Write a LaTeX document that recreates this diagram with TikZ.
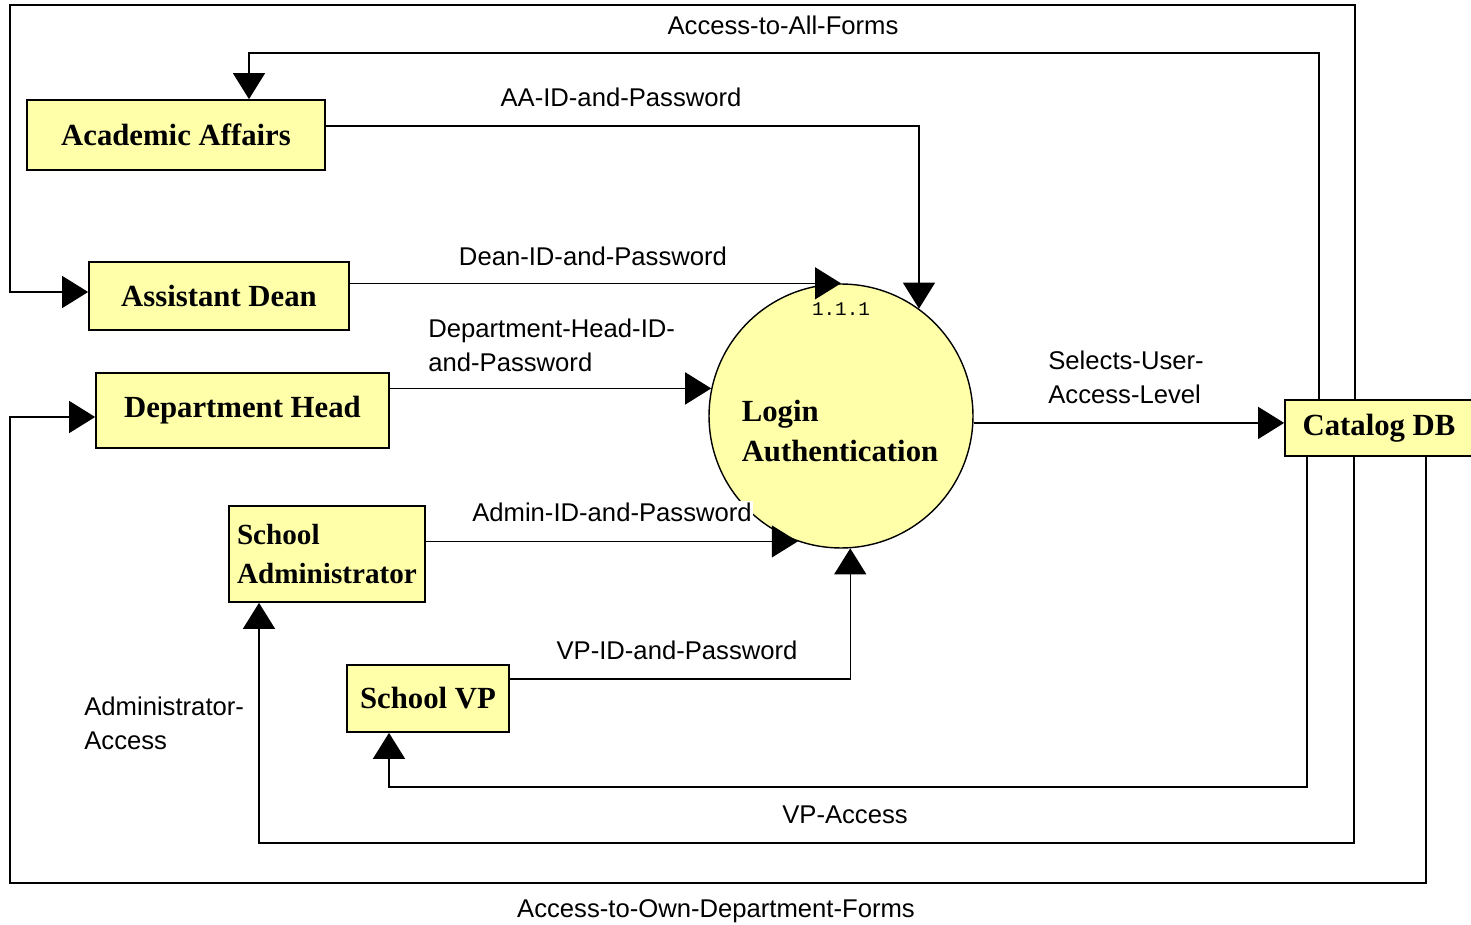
\documentclass[tikz,border=0pt]{standalone}
\usepackage{fontspec}
\setmainfont{Liberation Serif}
\newfontfamily\labelfont{Liberation Sans}
\newfontfamily\numfont{Liberation Mono}
\usetikzlibrary{arrows.meta}
\definecolor{boxyellow}{RGB}{255,255,170}
\tikzset{
  entity/.style={draw, line width=1pt, fill=boxyellow, inner sep=0pt,
    font=\fontsize{17.5}{22.7}\selectfont\bfseries},
  flow/.style={line width=0.8pt, -{Triangle[length=0.52cm,width=0.64cm]}},
  flowlabel/.style={font=\labelfont\fontsize{14.6}{19.3}\selectfont, inner sep=0pt, align=left},
}
\begin{document}
\begin{tikzpicture}[x=0.02cm, y=-0.02cm]
			\useasboundingbox (0,0) rectangle (1471,925);
			
			% Users
			\node[entity, minimum width=5.96cm, minimum height=1.4cm] (aa) at (176,135) {Academic Affairs};
			\node[entity, minimum width=5.2cm, minimum height=1.36cm] (ad) at (219,296) {Assistant Dean};
			\node[entity, minimum width=5.86cm, minimum height=1.5cm] (dh) at (242.5,410.5) {Department Head};
			\node[entity, minimum width=3.92cm, minimum height=1.92cm, text width=3.6cm, align=left,
			      font=\fontsize{16.6}{22.7}\selectfont\bfseries] (sa) at (327,554) {School\\Administrator};
			\node[entity, minimum width=3.24cm, minimum height=1.34cm] (svp) at (428,698.5) {School VP};
			
			% Data store
			\node[entity, minimum width=3.76cm, minimum height=1.12cm] (cat) at (1379,428) {Catalog DB};
			
			% Process 1.1.1
			\node[circle, draw, line width=0.8pt, fill=boxyellow, minimum size=5.28cm, inner sep=0pt] (login) at (841,416) {};
			\node[font=\fontsize{17.5}{22.7}\selectfont\bfseries, align=left, inner sep=0pt] (logintxt) at (840,431) {Login\\Authentication};
			\node[font=\numfont\fontsize{11}{13}\selectfont, inner sep=0pt] (procid) at (841,309) {1.1.1};
			
			% Catalog DB back to the users
			\draw[flow] (cat.north -| 1319,0) |- (249,53) -- (aa.north -| 249,0);
			\draw[flow] (cat.north -| 1355,0) |- (10,5) |- (ad.west |- 0,292);
			\draw[flow] (cat.south -| 1426,0) |- (10,883) |- (dh.west |- 0,417);
			\draw[flow] (cat.south -| 1354,0) |- (259,843) -- (sa.south -| 259,0);
			\draw[flow] (cat.south -| 1307,0) |- (389,787) -- (svp.south -| 389,0);
			
			% Users into the login
			\draw[flow] (aa.east |- 0,126) -| (login.54);
			\draw[flow] (ad.east |- login.north) -- (login.north);
			\draw[flow] (dh.east |- login.168) -- (login.168);
			\draw[flow] (sa.east |- login.251) -- (login.251);
			\draw[flow] (svp.east |- 0,679) -| (login.274);
			\draw[flow] (login.357) -- (cat.west |- login.357);
			
			% Flow labels
			\node[flowlabel] (allforms) at (783,25) {Access-to-All-Forms};
			\node[flowlabel] (aaid) at (621,97) {AA-ID-and-Password};
			\node[flowlabel] (deanid) at (593,256) {Dean-ID-and-Password};
			\node[flowlabel, anchor=west] (dhid) at (428,345) {Department-Head-ID-\\and-Password};
			\node[flowlabel, anchor=west] (selects) at (1048,377) {Selects-User-\\Access-Level};
			\node[flowlabel, fill=white, inner sep=1pt] (adminid) at (612,512) {Admin-ID-and-Password};
			\node[flowlabel] (vpid) at (677,650) {VP-ID-and-Password};
			\node[flowlabel, anchor=west] (adminacc) at (84,723) {Administrator-\\Access};
			\node[flowlabel] (vpacc) at (845,815) {VP-Access};
			\node[flowlabel] (owndept) at (716,911) {Access-to-Own-Department-Forms};
\end{tikzpicture}
\end{document}
